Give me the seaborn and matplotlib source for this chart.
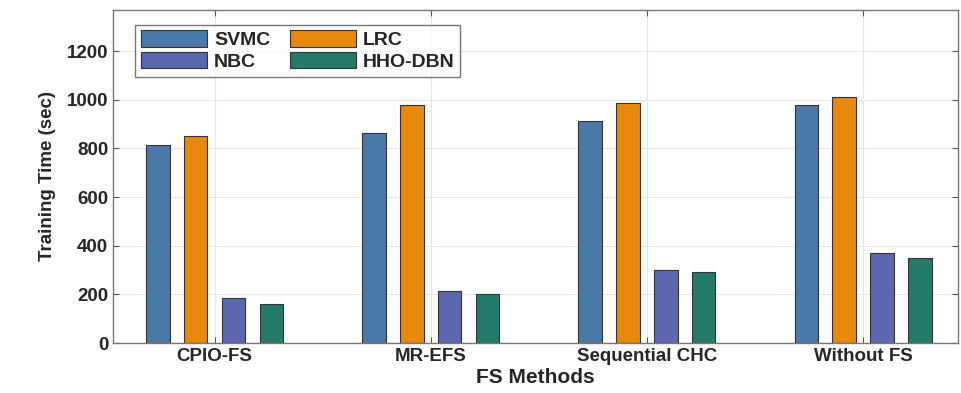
import matplotlib
matplotlib.use("Agg")
import matplotlib.pyplot as plt
import seaborn as sns
import pandas as pd

methods = ["CPIO-FS", "MR-EFS", "Sequential CHC", "Without FS"]
models = ["SVMC", "LRC", "NBC", "HHO-DBN"]
svmc = [815, 862, 912, 978]
lrc = [850, 978, 985, 1010]
nbc = [185, 215, 300, 372]
hho = [160, 203, 293, 350]
colors = ["#4a78a8", "#e8890c", "#5b68b0", "#237a68"]

rows = []
for m, vals in zip(models, [svmc, lrc, nbc, hho]):
    for meth, v in zip(methods, vals):
        rows.append({"Method": meth, "Model": m, "Time": v})
df = pd.DataFrame(rows)

sns.set_style("white")
plt.rcParams["font.family"] = ["Liberation Sans", "DejaVu Sans"]

fig = plt.figure(figsize=(9.62, 3.93), dpi=100)
ax = fig.add_axes([0.1175, 0.127, 0.8785, 0.848])
sns.barplot(data=df, x="Method", y="Time", hue="Model", palette=colors,
            saturation=1, width=0.7, gap=0.38, edgecolor="#333333", linewidth=0.8,
            ax=ax, errorbar=None)

ax.set_ylim(0, 1370)
ax.set_xlim(-0.47, 3.44)
ax.set_yticks([0, 200, 400, 600, 800, 1000, 1200])
ax.grid(True, color="#e6e6e6", linewidth=0.8)
ax.set_axisbelow(True)
ax.tick_params(direction="in", length=4, color="#555555", labelsize=13.5,
               right=True, top=True, left=True, bottom=True)
for lab in ax.get_xticklabels() + ax.get_yticklabels():
    lab.set_fontweight("bold")
for s in ax.spines.values():
    s.set_color("#777777")
    s.set_linewidth(1.0)
ax.set_xlabel("FS Methods", fontsize=15, fontweight="bold", labelpad=2)
ax.set_ylabel("Training Time (sec)", fontsize=13.5, fontweight="bold", labelpad=8)

handles, labels = ax.get_legend_handles_labels()
order = [0, 2, 1, 3]
leg = ax.legend([handles[i] for i in order], [labels[i] for i in order],
                loc="upper left", ncol=2, frameon=True,
                fancybox=False, edgecolor="#555555", handlelength=3.4,
                handleheight=0.9, columnspacing=1.0, handletextpad=0.35,
                borderpad=0.3, labelspacing=0.15,
                bbox_to_anchor=(0.015, 0.985), prop={"weight": "bold", "size": 14})
leg.get_frame().set_linewidth(1.0)

fig.savefig("out.png", dpi=100)
